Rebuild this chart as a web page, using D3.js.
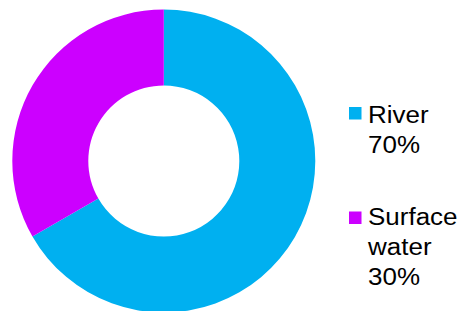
<!DOCTYPE html>
<html>
<head>
<meta charset="utf-8">
<script src="https://cdn.jsdelivr.net/npm/d3@7"></script>
<style>
  html, body { margin: 0; padding: 0; background: #fff; }
  svg { display: block; }
</style>
</head>
<body>
<svg id="chart" width="463" height="311"></svg>
<script>
const categories = ["River", "Surface water"];
const sliceValues = [66.7, 33.3];
const percentLabels = ["70%", "30%"];
const legendLines = [["River", "70%"], ["Surface", "water", "30%"]];
const colors = ["#00B0F0", "#CC00FF"];

const svg = d3.select("#chart");
const cx = 163.8, cy = 161, outerR = 151.5, innerR = 75.5;

const pie = d3.pie().sort(null).value(d => d.value);
const arc = d3.arc().innerRadius(innerR).outerRadius(outerR);
const data = categories.map((c, i) => ({ cat: c, value: sliceValues[i], color: colors[i] }));

svg.append("g")
  .attr("transform", `translate(${cx},${cy})`)
  .selectAll("path")
  .data(pie(data))
  .join("path")
  .attr("d", arc)
  .attr("fill", d => d.data.color);

const legendTop = [107, 211.5];
const baselines = [122.5, 225];
const legend = svg.append("g").attr("font-family", "Liberation Sans, Arial, sans-serif")
  .attr("font-size", 23).attr("fill", "#000");

categories.forEach((c, i) => {
  legend.append("rect")
    .attr("x", 349).attr("y", legendTop[i])
    .attr("width", 12.5).attr("height", 12.5)
    .attr("fill", colors[i]);
  const t = legend.append("text")
    .attr("transform", `translate(368,${baselines[i]}) scale(1.13,1)`)
    .attr("x", 0).attr("y", 0);
  legendLines[i].forEach((line, j) => {
    t.append("tspan").attr("x", 0).attr("dy", j === 0 ? 0 : 30.2).text(line);
  });
});
</script>
</body>
</html>
